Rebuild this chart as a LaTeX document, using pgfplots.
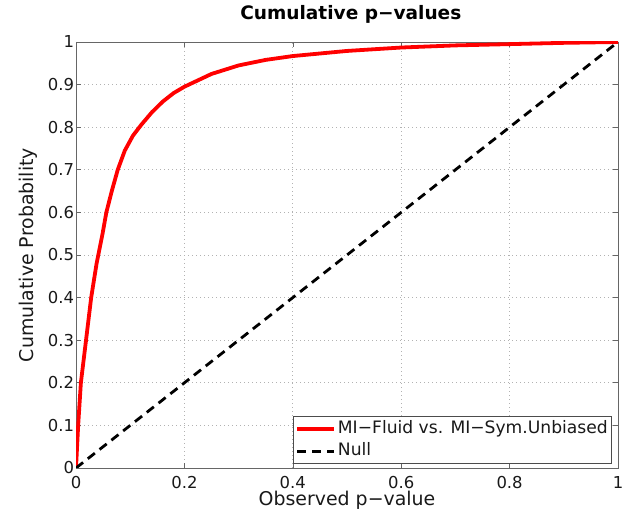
\documentclass[border=0pt]{standalone}
\usepackage{fontspec}
\setmainfont{DejaVu Sans}
\usepackage{pgfplots}
\pgfplotsset{compat=1.18}

\begin{document}
\begin{tikzpicture}[x=1bp,y=1bp]
\begin{axis}[
  scale only axis,
  width=542bp,height=426bp,
  xmin=0,xmax=1,ymin=0,ymax=1,
  xtick={0,0.2,0.4,0.6,0.8,1},
  ytick={0,0.1,0.2,0.3,0.4,0.5,0.6,0.7,0.8,0.9,1},
  xticklabels={0,0.2,0.4,0.6,0.8,1},
  yticklabels={0,0.1,0.2,0.3,0.4,0.5,0.6,0.7,0.8,0.9,1},
  tick align=inside,
  major tick length=5bp,
  axis line style={black!60,line width=0.6bp},
  tick style={black!60,line width=0.6bp},
  grid=major,
  grid style={black!30,line width=0.8bp,dash pattern=on 1bp off 3bp},
  tick label style={font=\fontsize{16.5}{19}\selectfont,text=black!90},
  xticklabel style={yshift=-4.5bp},
  yticklabel style={xshift=1.5bp},
  label style={font=\fontsize{19}{22}\selectfont,text=black!90},
  xlabel={Observed p−value},
  ylabel={Cumulative Probability},
  xlabel style={at={(axis description cs:0.5,-0.0869)},anchor=base},
  ylabel style={at={(axis description cs:-0.0793,0.5)},anchor=base},
  title={\textbf{Cumulative p−values}},
  title style={font=\fontsize{18.6}{22}\selectfont,
    at={(axis description cs:0.507,1.0399)},anchor=base},
  legend style={at={(0.989,0.0094)},anchor=south east,draw=black!70,
    line width=0.6bp,font=\fontsize{17.2}{20}\selectfont,text=black!90,
    inner xsep=2bp,inner ysep=1.5bp,row sep=0bp,
    nodes={inner sep=2bp,text height=13bp,text depth=5bp}},
  legend cell align=left,
  legend image code/.code={\draw[#1] (0bp,0bp) -- (37bp,0bp);},
]
\addplot[red,line width=3.8bp] coordinates {
(0,0) (0.002,0.05) (0.004,0.1) (0.009,0.2) (0.0185,0.3) (0.028,0.4)
(0.038,0.48) (0.049,0.55) (0.056,0.6) (0.066,0.65) (0.077,0.7)
(0.09,0.745) (0.105,0.78) (0.12,0.805) (0.14,0.835) (0.16,0.86)
(0.18,0.88) (0.2,0.895) (0.25,0.925) (0.3,0.945) (0.35,0.958)
(0.4,0.967) (0.5,0.979) (0.6,0.987) (0.7,0.992) (0.8,0.995)
(0.9,0.998) (1,1)};
\addlegendentry{MI−Fluid vs. MI−Sym.Unbiased}
\addplot[black,line width=2.8bp,dash pattern=on 9bp off 6bp] coordinates {(0,0) (1,1)};
\addlegendentry{Null}
\end{axis}
\pgfresetboundingbox
\path (-76bp,-54bp) rectangle (560bp,468bp);
\end{tikzpicture}
\end{document}
